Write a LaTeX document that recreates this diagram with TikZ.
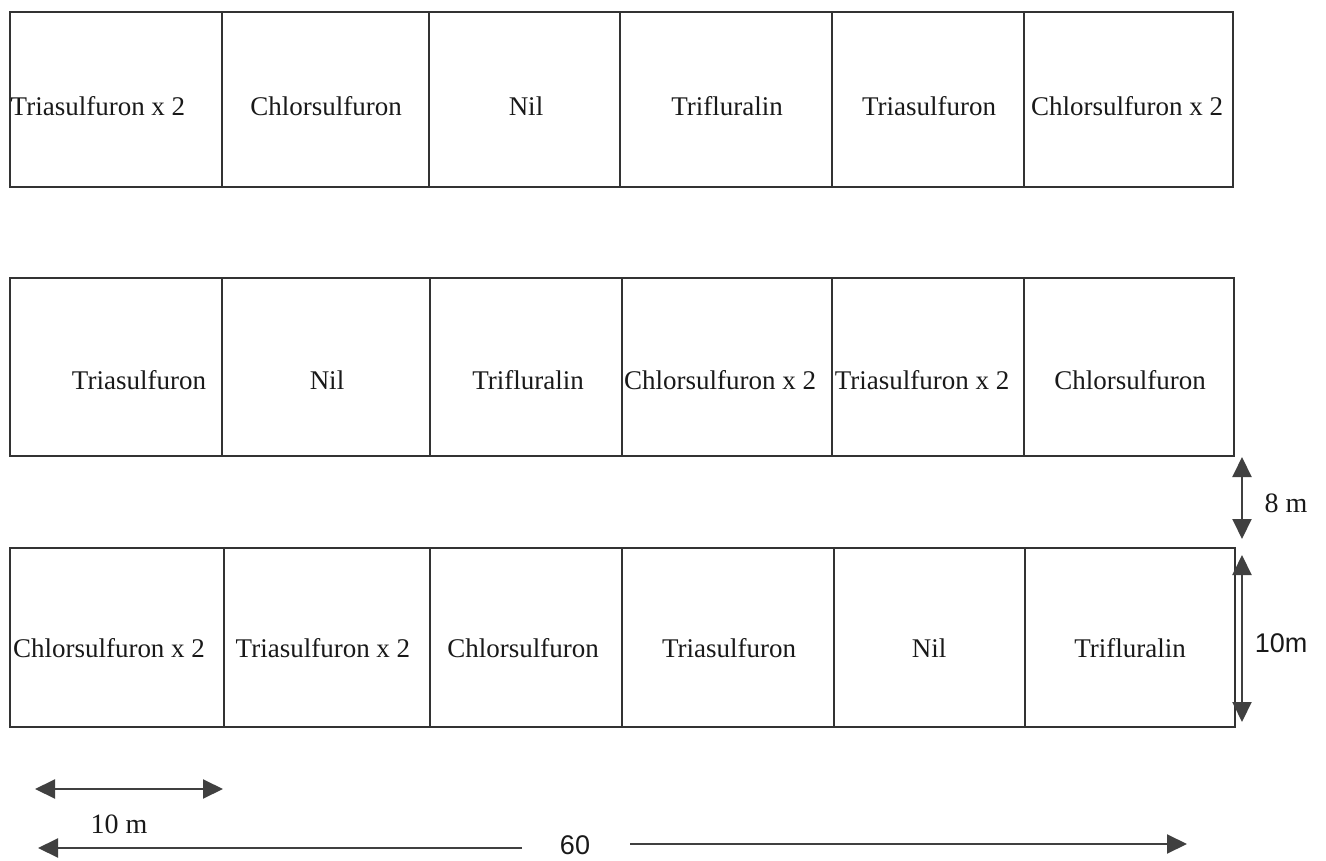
\documentclass[tikz,border=0pt]{standalone}
\usepackage{fontspec}
\setmainfont{Liberation Serif}
\newfontfamily\dimsans{Liberation Sans}
\usetikzlibrary{arrows.meta}
\newcommand\plotcell[5]{%
  \node[cell, minimum width={(#4-#2)*1pt}, minimum height={(#5-#3)*1pt}]
    (#1) at ({(#2+#4)/2},{(#3+#5)/2}) {};}
\begin{document}
\begin{tikzpicture}[x=1pt,y=-1pt,
  cell/.style={draw=black!80, line width=1.6pt, rectangle, inner sep=0pt, outer sep=0pt},
  lab/.style={anchor=base, inner sep=0pt, font=\fontsize{27}{30}\selectfont, text=black!90},
  dimtxt/.style={anchor=base, inner sep=0pt, font=\fontsize{28}{32}\selectfont, text=black!90},
  dimsanstxt/.style={anchor=base, inner sep=0pt, font=\dimsans\fontsize{27}{32}\selectfont, text=black!90},
  dim/.style={draw=black!75, line width=2pt, {Triangle[length=20pt,width=19pt]}-{Triangle[length=20pt,width=19pt]}},
  dimr/.style={draw=black!75, line width=2pt, -{Triangle[length=20pt,width=19pt]}}]
\useasboundingbox (0,0) rectangle (1326,861);
% Row 1
\plotcell{a1}{10}{12}{222}{187}
\plotcell{a2}{222}{12}{429}{187}
\plotcell{a3}{429}{12}{620}{187}
\plotcell{a4}{620}{12}{832}{187}
\plotcell{a5}{832}{12}{1024}{187}
\plotcell{a6}{1024}{12}{1233}{187}
\node[lab] (ta1) at (98,116) {Triasulfuron x 2};
\node[lab] (ta2) at (326,116) {Chlorsulfuron};
\node[lab] (ta3) at (526,116) {Nil};
\node[lab] (ta4) at (727,116) {Trifluralin};
\node[lab] (ta5) at (929,116) {Triasulfuron};
\node[lab] (ta6) at (1127,116) {Chlorsulfuron x 2};
% Row 2
\plotcell{b1}{10}{278}{222}{456}
\plotcell{b2}{222}{278}{430}{456}
\plotcell{b3}{430}{278}{622}{456}
\plotcell{b4}{622}{278}{832}{456}
\plotcell{b5}{832}{278}{1024}{456}
\plotcell{b6}{1024}{278}{1234}{456}
\node[lab] (tb1) at (139,389) {Triasulfuron};
\node[lab] (tb2) at (327,389) {Nil};
\node[lab] (tb3) at (528,389) {Trifluralin};
\node[lab] (tb4) at (720,389) {Chlorsulfuron x 2};
\node[lab] (tb5) at (922,389) {Triasulfuron x 2};
\node[lab] (tb6) at (1130,389) {Chlorsulfuron};
% Row 3
\plotcell{c1}{10}{548}{224}{727}
\plotcell{c2}{224}{548}{430}{727}
\plotcell{c3}{430}{548}{622}{727}
\plotcell{c4}{622}{548}{834}{727}
\plotcell{c5}{834}{548}{1025}{727}
\plotcell{c6}{1025}{548}{1235}{727}
\node[lab] (tc1) at (109,657) {Chlorsulfuron x 2};
\node[lab] (tc2) at (323,657) {Triasulfuron x 2};
\node[lab] (tc3) at (523,657) {Chlorsulfuron};
\node[lab] (tc4) at (729,657) {Triasulfuron};
\node[lab] (tc5) at (929,657) {Nil};
\node[lab] (tc6) at (1130,657) {Trifluralin};
% 8 m dimension
\coordinate (g1) at (1242,457);
\coordinate (g2) at (1242,539);
\draw[dim] (g1) -- (g2);
\node[dimtxt] (t8m) at (1286,512) {8 m};
% 10m dimension (height)
\coordinate (h1) at (1242,555);
\coordinate (h2) at (1242,722);
\draw[dim] (h1) -- (h2);
\node[dimsanstxt] (t10h) at (1281,652) {10m};
% 10 m dimension (width)
\coordinate (w1) at (35,789);
\coordinate (w2) at (223,789);
\draw[dim] (w1) -- (w2);
\node[dimtxt] (t10w) at (119,833) {10 m};
% 60 dimension
\node[dimsanstxt, font=\dimsans\fontsize{27}{32}\selectfont] (t60) at (575,854) {60};
\coordinate (l1) at (522,848);
\coordinate (l2) at (38,848);
\coordinate (r1) at (630,844);
\coordinate (r2) at (1187,844);
\draw[dimr] (l1) -- (l2);
\draw[dimr] (r1) -- (r2);
\end{tikzpicture}
\end{document}
